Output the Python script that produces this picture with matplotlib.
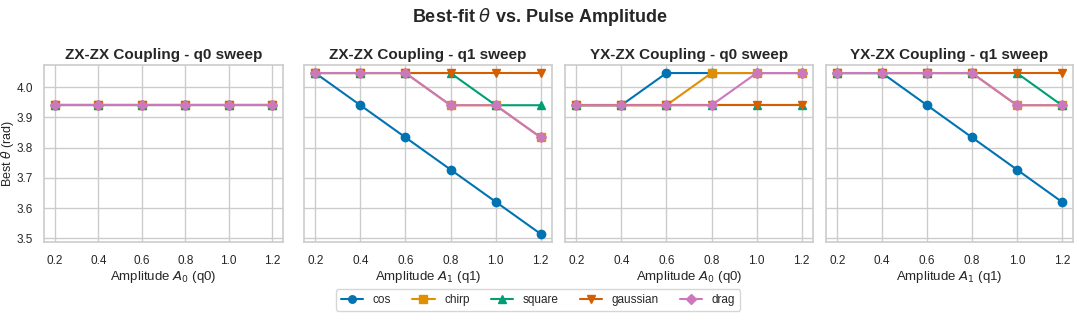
import matplotlib
matplotlib.use("Agg")
import matplotlib.pyplot as plt
import seaborn as sns

sns.set_theme(style="whitegrid")
plt.rcParams['font.family'] = ['Liberation Sans', 'DejaVu Sans']

amplitudes = [0.2, 0.4, 0.6, 0.8, 1.0, 1.2]
pulses = ["cos", "chirp", "square", "gaussian", "drag"]
markers = ["o", "s", "^", "v", "D"]
colors = ["#0173b2", "#de8f05", "#029e73", "#d55e00", "#cc78bc"]

titles = ["ZX-ZX Coupling - q0 sweep", "ZX-ZX Coupling - q1 sweep",
          "YX-ZX Coupling - q0 sweep", "YX-ZX Coupling - q1 sweep"]
xlabels = ["Amplitude $A_0$ (q0)", "Amplitude $A_1$ (q1)",
           "Amplitude $A_0$ (q0)", "Amplitude $A_1$ (q1)"]

zx_q0 = {
    "cos":      [3.9404, 3.9404, 3.9404, 3.9404, 3.9404, 3.9404],
    "chirp":    [3.9404, 3.9404, 3.9404, 3.9404, 3.9404, 3.9404],
    "square":   [3.9404, 3.9404, 3.9404, 3.9404, 3.9404, 3.9404],
    "gaussian": [3.9404, 3.9404, 3.9404, 3.9404, 3.9404, 3.9404],
    "drag":     [3.9404, 3.9404, 3.9404, 3.9404, 3.9404, 3.9404],
}
zx_q1 = {
    "cos":      [4.0469, 3.9404, 3.8339, 3.7274, 3.6209, 3.5144],
    "chirp":    [4.0469, 4.0469, 4.0469, 3.9404, 3.9404, 3.8339],
    "square":   [4.0469, 4.0469, 4.0469, 4.0469, 3.9404, 3.9404],
    "gaussian": [4.0469, 4.0469, 4.0469, 4.0469, 4.0469, 4.0469],
    "drag":     [4.0469, 4.0469, 4.0469, 3.9404, 3.9404, 3.8339],
}
yx_q0 = {
    "cos":      [3.9404, 3.9404, 4.0469, 4.0469, 4.0469, 4.0469],
    "chirp":    [3.9404, 3.9404, 3.9404, 4.0469, 4.0469, 4.0469],
    "square":   [3.9404, 3.9404, 3.9404, 3.9404, 3.9404, 3.9404],
    "gaussian": [3.9404, 3.9404, 3.9404, 3.9404, 3.9404, 3.9404],
    "drag":     [3.9404, 3.9404, 3.9404, 3.9404, 4.0469, 4.0469],
}
yx_q1 = {
    "cos":      [4.0469, 4.0469, 3.9404, 3.8339, 3.7274, 3.6209],
    "chirp":    [4.0469, 4.0469, 4.0469, 4.0469, 3.9404, 3.9404],
    "square":   [4.0469, 4.0469, 4.0469, 4.0469, 4.0469, 3.9404],
    "gaussian": [4.0469, 4.0469, 4.0469, 4.0469, 4.0469, 4.0469],
    "drag":     [4.0469, 4.0469, 4.0469, 4.0469, 3.9404, 3.9404],
}
panels = [zx_q0, zx_q1, yx_q0, yx_q1]

fig = plt.figure(figsize=(10.8, 3.14), dpi=100)
W, H = 1080, 314
lefts = [44, 304, 565, 826]
rights = [283, 552, 813, 1073]
top, bottom = 65, 242
axes = []
for i, (l, r) in enumerate(zip(lefts, rights)):
    kw = {}
    if axes:
        kw["sharey"] = axes[0]
    ax = fig.add_axes([l / W, 1 - bottom / H, (r - l) / W, (bottom - top) / H], **kw)
    axes.append(ax)

handles = []
for ax, data, title, xl in zip(axes, panels, titles, xlabels):
    for p, m, c in zip(pulses, markers, colors):
        ms = 6 if m != "D" else 5.5
        h, = ax.plot(amplitudes, data[p], marker=m, color=c, lw=1.5, ms=ms, label=p)
        if ax is axes[0]:
            handles.append(h)
    ax.set_title(title, fontsize=11, fontweight="bold", pad=4)
    ax.set_xlabel(xl, fontsize=9.5, labelpad=2)
    ax.set_xticks(amplitudes)
    ax.tick_params(axis="both", labelsize=8.5, pad=3)
    for s in ax.spines.values():
        s.set_color("#cccccc")
        s.set_linewidth(1.2)
for ax in axes[1:]:
    ax.tick_params(axis="y", labelleft=False)
axes[0].tick_params(axis="y", pad=2)
axes[0].set_ylabel(r"Best $\theta$ (rad)", fontsize=9, va="center")
axes[0].yaxis.set_label_coords(-36 / 239, 0.5)

fig.suptitle(r"Best-fit $\theta$ vs. Pulse Amplitude", fontsize=13, fontweight="bold", y=0.98)
fig.legend(handles, pulses, loc="center", bbox_to_anchor=(538 / W, 1 - 300 / H), ncol=5,
           fontsize=8.5, frameon=True, columnspacing=1.8, handlelength=1.9, markerscale=0.9)

fig.savefig("out.png", dpi=100)
